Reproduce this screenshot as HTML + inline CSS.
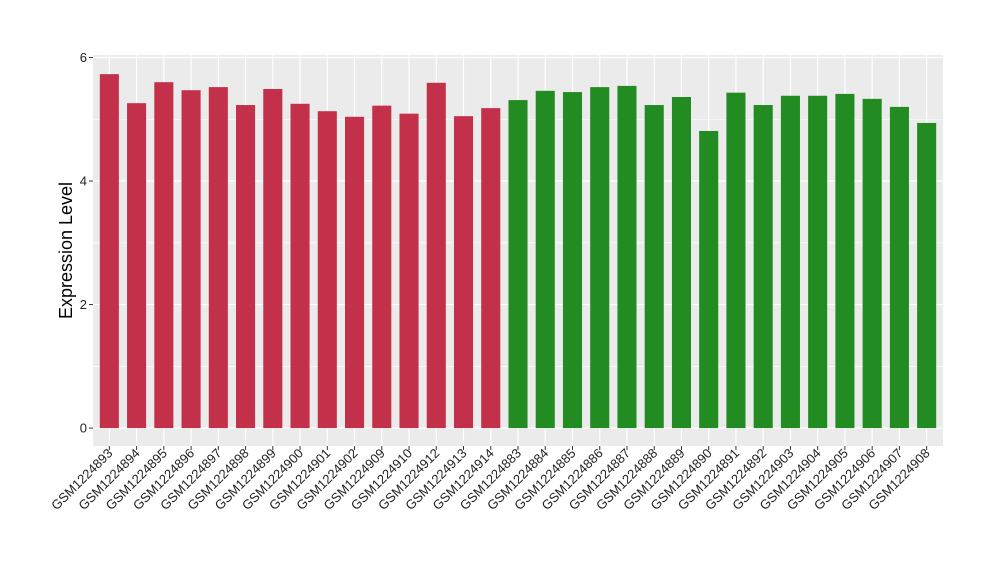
<!DOCTYPE html>
<html><head><meta charset="utf-8"><style>body{margin:0;background:#fff}svg{display:block;font-family:"Liberation Sans",Arial,sans-serif}</style></head>
<body>
<svg id="chart" width="1000" height="580" viewBox="0 0 1000 580"></svg>
<script>
const categories=["GSM1224893","GSM1224894","GSM1224895","GSM1224896","GSM1224897","GSM1224898","GSM1224899","GSM1224900","GSM1224901","GSM1224902","GSM1224909","GSM1224910","GSM1224912","GSM1224913","GSM1224914","GSM1224883","GSM1224884","GSM1224885","GSM1224886","GSM1224887","GSM1224888","GSM1224889","GSM1224890","GSM1224891","GSM1224892","GSM1224903","GSM1224904","GSM1224905","GSM1224906","GSM1224907","GSM1224908"];
const values=[5.73,5.26,5.60,5.47,5.52,5.23,5.49,5.25,5.13,5.04,5.22,5.09,5.59,5.05,5.18,5.31,5.46,5.44,5.52,5.54,5.23,5.36,4.81,5.43,5.23,5.38,5.38,5.41,5.33,5.20,4.94];
const groups=["a","a","a","a","a","a","a","a","a","a","a","a","a","a","a","b","b","b","b","b","b","b","b","b","b","b","b","b","b","b","b"];
const yTicks=[0,2,4,6];
const yMinor=[1,3,5];
const colors={a:"#C3304A",b:"#228B22"};
const NS="http://www.w3.org/2000/svg";
const svg=document.getElementById("chart");
const px0=93,px1=943,py0=55,py1=446;
const yMin=-0.29,yMax=6.04;
const y=v=>py1-(v-yMin)/(yMax-yMin)*(py1-py0);
const step=(px1-px0)/(categories.length+0.2);
const x=i=>px0+step*(0.6+i);
function el(t,a,p){const e=document.createElementNS(NS,t);for(const k in a)e.setAttribute(k,a[k]);(p||svg).appendChild(e);return e;}
const panel=el("rect",{x:px0,y:py0,width:px1-px0,height:py1-py0,fill:"#EBEBEB"});


yMinor.forEach(v=>{const l=el("line",{x1:px0,x2:px1,y1:y(v),y2:y(v),stroke:"#fff","stroke-width":0.6});

});
yTicks.forEach(v=>{const l=el("line",{x1:px0,x2:px1,y1:y(v),y2:y(v),stroke:"#fff","stroke-width":1.2});


const t=el("line",{x1:px0-4,x2:px0,y1:y(v),y2:y(v),stroke:"#333","stroke-width":1});


const tx=el("text",{x:px0-6,y:y(v)+4.5,"text-anchor":"end","font-size":13,fill:"#222"});tx.textContent=v;

});
categories.forEach((c,i)=>{const l=el("line",{x1:x(i),x2:x(i),y1:py0,y2:py1,stroke:"#fff","stroke-width":1.2});

});
categories.forEach((c,i)=>{const bw=step*0.7;
const b=el("rect",{x:x(i)-bw/2,y:y(values[i]),width:bw,height:y(0)-y(values[i]),fill:colors[groups[i]]});


const t=el("line",{x1:x(i),x2:x(i),y1:py1,y2:py1+4,stroke:"#333","stroke-width":1});


const tx=el("text",{x:x(i)+4,y:py1+8,"text-anchor":"end","font-size":13,fill:"#222",transform:`rotate(-45 ${x(i)+4} ${py1+8})`});tx.textContent=c;

});
const yt=el("text",{x:72,y:(py0+py1)/2,"text-anchor":"middle","font-size":18,fill:"#000",transform:`rotate(-90 72 ${(py0+py1)/2})`});yt.textContent="Expression Level";


</script>
</body></html>
